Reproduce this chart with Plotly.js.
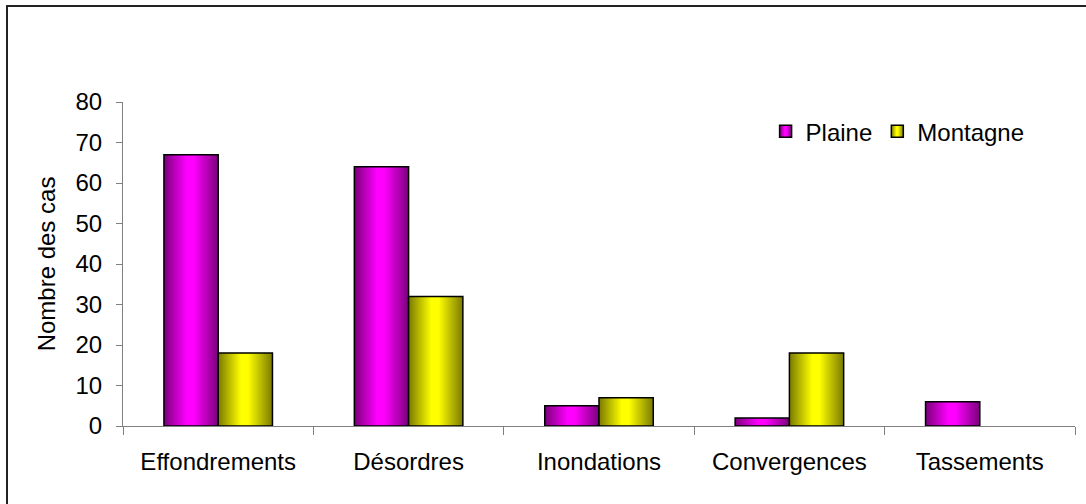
<!DOCTYPE html>
<html>
<head>
<meta charset="utf-8">
<script src="https://cdn.plot.ly/plotly-3.0.1.min.js"></script>
<style>
  html, body { margin: 0; padding: 0; background: #fff; overflow: hidden; }
  #wrap { position: relative; width: 1086px; height: 504px; overflow: hidden; }
  #chart { width: 1086px; height: 504px; }
  #frame { position: absolute; left: 6px; top: 5px; width: 1100px; height: 520px;
           border: 2px solid #222; pointer-events: none; box-sizing: border-box; }
</style>
</head>
<body>
<div id="wrap">
  <div id="chart"></div>
  <div id="frame"></div>
</div>
<script>
const categories = ["Effondrements", "Désordres", "Inondations", "Convergences", "Tassements"];
const plaine = [67, 64, 5, 2, 6];
const montagne = [18, 32, 7, 18, null];
const seriesNames = ["Plaine", "Montagne"];
const yTicks = [0, 10, 20, 30, 40, 50, 60, 70, 80];

const fam = "Liberation Sans, Arial, sans-serif";
const txt = { family: fam, size: 24, color: "#000" };

const traces = [
  { type: "bar", name: seriesNames[0], x: categories, y: plaine,
    marker: { color: "#ff00ff", line: { color: "#000", width: 1.5 } } },
  { type: "bar", name: seriesNames[1], x: categories, y: montagne,
    marker: { color: "#ffff00", line: { color: "#000", width: 1.5 } } }
];

const layout = {
  width: 1086, height: 504,
  margin: { l: 123, r: 11, t: 102, b: 78 },
  paper_bgcolor: "rgba(0,0,0,0)", plot_bgcolor: "rgba(0,0,0,0)",
  font: txt,
  barmode: "group", bargap: 0.43, bargroupgap: 0,
  showlegend: true,
  legend: { orientation: "h", x: 0.675, y: 0.978, xanchor: "left", yanchor: "top",
            font: txt, itemwidth: 30, tracegroupgap: 0, bgcolor: "rgba(0,0,0,0)" },
  xaxis: { type: "category", showline: true, linecolor: "#808080", linewidth: 1,
           ticks: "outside", tickson: "boundaries", ticklen: 8, tickcolor: "#808080",
           tickfont: txt, ticklabelstandoff: 14,
           showgrid: false, zeroline: false, fixedrange: true },
  yaxis: { range: [0, 80], tickvals: yTicks, showline: true, linecolor: "#808080", linewidth: 1,
           ticks: "outside", ticklen: 6, tickcolor: "#808080",
           tickfont: txt, ticklabelstandoff: 9,
           showgrid: false, zeroline: false, fixedrange: true,
           title: { text: "Nombre des cas", font: txt, standoff: 13 } }
};

Plotly.newPlot("chart", traces, layout, { displayModeBar: false, staticPlot: true }).then(function (gd) {
  const svgNS = "http://www.w3.org/2000/svg";
  const svg = gd.querySelector("svg.main-svg");
  const defs = document.createElementNS(svgNS, "defs");
  function grad(id, dark, bright) {
    const g = document.createElementNS(svgNS, "linearGradient");
    g.setAttribute("id", id);
    g.setAttribute("x1", "0"); g.setAttribute("x2", "1");
    g.setAttribute("y1", "0"); g.setAttribute("y2", "0");
    [[0, dark], [0.42, bright], [0.55, bright], [1, dark]].forEach(function (s) {
      const st = document.createElementNS(svgNS, "stop");
      st.setAttribute("offset", s[0]);
      st.setAttribute("stop-color", s[1]);
      g.appendChild(st);
    });
    defs.appendChild(g);
  }
  grad("gP", "#7a007a", "#ff00ff");
  grad("gM", "#7a7a00", "#ffff00");
  svg.insertBefore(defs, svg.firstChild);
  const ids = ["gP", "gM"];
  gd.querySelectorAll(".barlayer .trace").forEach(function (t, i) {
    t.querySelectorAll("path").forEach(function (p) { p.style.fill = "url(#" + ids[i] + ")"; });
  });
  document.querySelectorAll(".legend .traces").forEach(function (t, i) {
    t.querySelectorAll(".legendpoints path").forEach(function (p) { p.style.fill = "url(#" + ids[i] + ")"; });
  });
});
</script>
</body>
</html>
